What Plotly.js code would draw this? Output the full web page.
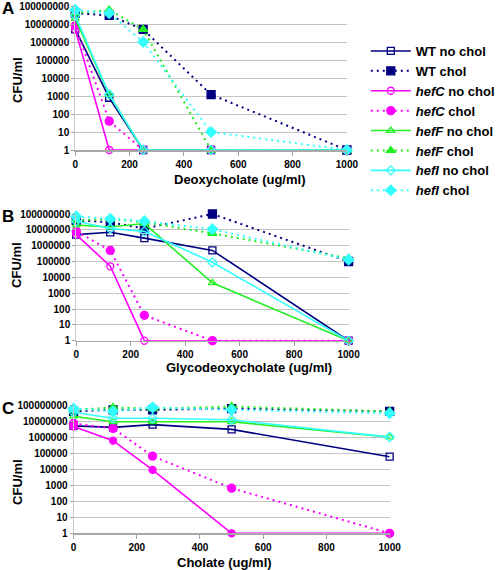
<!DOCTYPE html>
<html><head><meta charset="utf-8">
<script src="https://cdn.plot.ly/plotly-3.0.1.min.js"></script>
<style>html,body{margin:0;padding:0;background:#fff}#chart{width:500px;height:570px}</style>
</head><body><div id="chart"></div>
<script>
// ---- data ----
const concentrations = [0, 125, 250, 500, 1000];
const xTickVals = [0, 200, 400, 600, 800, 1000];
const yTickVals = [1, 10, 100, 1000, 10000, 100000, 1000000, 10000000, 100000000];
const yTickText = ["1", "10", "100", "1000", "10000", "100000", "1000000", "10000000", "100000000"];
const seriesNames = ["WT no chol", "WT chol", "<i>hefC</i> no chol", "<i>hefC</i> chol",
  "<i>hefF</i> no chol", "<i>hefF</i> chol", "<i>hefI</i> no chol", "<i>hefI</i> chol"];
const panelTitles = ["Deoxycholate (ug/ml)", "Glycodeoxycholate (ug/ml)", "Cholate (ug/ml)"];
const panelLetters = ["A", "B", "C"];

// Panel A: Deoxycholate
const deoxyWTNoChol   = [5e6, 800, 1, 1, 1];
const deoxyWTChol     = [4e7, 3e7, 5e6, 1200, 1];
const deoxyHefCNoChol = [5e6, 1, 1, 1, 1];
const deoxyHefCChol   = [8e6, 40, 1, 1, 1];
const deoxyHefFNoChol = [2e7, 1200, 1, 1, 1];
const deoxyHefFChol   = [4e7, 6e7, 5e6, 1, 1];
const deoxyHefINoChol = [3e7, 1200, 1, 1, 1];
const deoxyHefIChol   = [6e7, 4e7, 1e6, 10, 1];

// Panel B: Glycodeoxycholate
const glycoWTNoChol   = [5e6, 7e6, 3e6, 5e5, 1];
const glycoWTChol     = [4e7, 3e7, 1.2e7, 1e8, 1e5];
const glycoHefCNoChol = [5e6, 5e4, 1, 1, 1];
const glycoHefCChol   = [8e6, 5e5, 40, 1, 1];
const glycoHefFNoChol = [2e7, 1.5e7, 2.5e7, 4500, 1];
const glycoHefFChol   = [4e7, 5e7, 3e7, 6e6, 1.6e5];
const glycoHefINoChol = [3.5e7, 1.2e7, 8e6, 9e4, 1];
const glycoHefIChol   = [7e7, 5e7, 3.5e7, 1.1e7, 1.3e5];

// Panel C: Cholate
const cholWTNoChol   = [5e6, 4e6, 6e6, 3e6, 6e4];
const cholWTChol     = [4e7, 5e7, 5e7, 6e7, 4e7];
const cholHefCNoChol = [4.5e6, 6e5, 9000, 1, 1];
const cholHefCChol   = [7e6, 3.5e6, 6.5e4, 650, 1];
const cholHefFNoChol = [2e7, 9e6, 9e6, 9e6, 1e6];
const cholHefFChol   = [5e7, 7e7, 6e7, 8e7, 4e7];
const cholHefINoChol = [3.5e7, 1.5e7, 1.5e7, 1.2e7, 1e6];
const cholHefIChol   = [6e7, 4e7, 7e7, 5e7, 3e7];

// ---- styles ----
const colors = ["#000080", "#000080", "#ff00ff", "#ff00ff", "#22ee22", "#22ee22", "#33ffff", "#33ffff"];
const dashes = ["solid", "2px,4px", "solid", "2px,4px", "solid", "2px,4px", "solid", "2px,4px"];
const symbols = ["square-open", "square", "circle-open", "circle", "triangle-up-open", "triangle-up", "diamond-open", "diamond"];
const symbolsC = ["square-open", "square", "circle", "circle", "triangle-up-open", "triangle-up", "diamond-open", "diamond"];

const panels = [
  {series: [deoxyWTNoChol, deoxyWTChol, deoxyHefCNoChol, deoxyHefCChol, deoxyHefFNoChol, deoxyHefFChol, deoxyHefINoChol, deoxyHefIChol], sym: symbols},
  {series: [glycoWTNoChol, glycoWTChol, glycoHefCNoChol, glycoHefCChol, glycoHefFNoChol, glycoHefFChol, glycoHefINoChol, glycoHefIChol], sym: symbols},
  {series: [cholWTNoChol, cholWTChol, cholHefCNoChol, cholHefCChol, cholHefFNoChol, cholHefFChol, cholHefINoChol, cholHefIChol], sym: symbolsC}
];

const traces = [];
panels.forEach((p, pi) => {
  const sfx = pi === 0 ? "" : String(pi + 1);
  p.series.forEach((vals, si) => {
    traces.push({
      type: "scatter", mode: "lines+markers",
      x: concentrations, y: vals,
      xaxis: "x" + sfx, yaxis: "y" + sfx,
      name: seriesNames[si], showlegend: pi === 0,
      legendgroup: "g" + si,
      cliponaxis: false,
      line: {color: colors[si], width: si % 2 ? 2 : 1.6, dash: dashes[si]},
      marker: {symbol: p.sym[si], color: colors[si], size: si % 2 ? 8 : 7,
               line: {color: colors[si], width: 1.3}}
    });
  });
});

const W = 500, H = 570;
const boxes = [ // plot areas in pixels: left, right, top, bottom
  [75.7, 349, 6, 150],
  [76.7, 350.7, 214, 340.7],
  [74, 392, 405, 533.3]
];
const tickFont = {family: "Liberation Sans, Arial, sans-serif", size: 10, weight: "bold", color: "#000"};
const layout = {
  width: W, height: H,
  margin: {l: 0, r: 0, t: 0, b: 0, pad: 0},
  paper_bgcolor: "#fff", plot_bgcolor: "#fff",
  font: {family: "Liberation Sans, Arial, sans-serif", color: "#000"},
  showlegend: true,
  legend: {x: 368 / W, y: 1 - 36 / H, xanchor: "left", yanchor: "top",
    font: {family: "Liberation Sans, Arial, sans-serif", size: 13, weight: "bold", color: "#000"},
    bgcolor: "rgba(0,0,0,0)", itemwidth: 40, tracegroupgap: 2.5, traceorder: "normal"},
  annotations: []
};
boxes.forEach((b, i) => {
  const sfx = i === 0 ? "" : String(i + 1);
  layout["xaxis" + sfx] = {
    domain: [b[0] / W, b[1] / W], range: [0, 1000], anchor: "y" + sfx,
    tickmode: "array", tickvals: xTickVals, ticks: "outside", ticklen: 4, tickcolor: "#a0a0a0",
    tickfont: tickFont, showgrid: false, zeroline: false,
    showline: true, linecolor: "#a8a8a8", linewidth: 1.5, fixedrange: true
  };
  layout["yaxis" + sfx] = {
    domain: [1 - b[3] / H, 1 - b[2] / H], type: "log", range: [0, 8], anchor: "x" + sfx,
    tickmode: "array", tickvals: yTickVals, ticktext: yTickText, ticks: "outside", ticklen: 3, tickcolor: "#a0a0a0",
    tickfont: tickFont, showgrid: true, gridcolor: "#c4c4c4", gridwidth: 1, zeroline: false,
    showline: true, linecolor: "#c8c8c8", linewidth: 1, fixedrange: true
  };
});
const xTitlePos = [[241, 179], [251, 367], [226, 562]];
const yTitlePos = [[17, 80], [16, 265], [17, 482]];
const letterPos = [[8, 8], [8, 216], [8, 408]];
for (let i = 0; i < 3; i++) {
  layout.annotations.push({text: panelTitles[i], xref: "paper", yref: "paper",
    x: xTitlePos[i][0] / W, y: 1 - xTitlePos[i][1] / H, xanchor: "center", yanchor: "middle",
    showarrow: false, font: {size: 13, weight: "bold", color: "#000"}});
  layout.annotations.push({text: "CFU/ml", xref: "paper", yref: "paper", textangle: -90,
    x: yTitlePos[i][0] / W, y: 1 - yTitlePos[i][1] / H, xanchor: "center", yanchor: "middle",
    showarrow: false, font: {size: 13, weight: "bold", color: "#000"}});
  layout.annotations.push({text: panelLetters[i], xref: "paper", yref: "paper",
    x: letterPos[i][0] / W, y: 1 - letterPos[i][1] / H, xanchor: "center", yanchor: "middle",
    showarrow: false, font: {size: 17, weight: "bold", color: "#000"}});
}
Plotly.newPlot("chart", traces, layout, {staticPlot: true, displayModeBar: false});
</script>
</body></html>
